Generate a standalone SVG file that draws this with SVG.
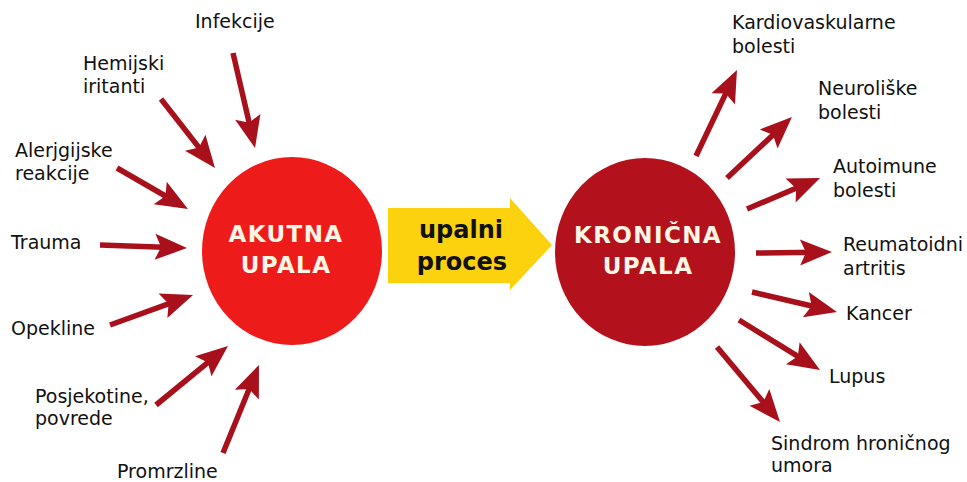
<svg xmlns="http://www.w3.org/2000/svg" width="967" height="482" viewBox="0 0 967 482">
  <style>
    .lbl { font-family: "DejaVu Sans", Verdana, sans-serif; font-size: 19px; fill: #111; }
    .core { font-family: "DejaVu Sans", Verdana, sans-serif; font-weight: bold; font-size: 23px; fill: #FFF6E6; text-anchor: middle; letter-spacing: 1.4px; }
    .proc { font-family: "DejaVu Sans", Verdana, sans-serif; font-weight: bold; font-size: 24px; fill: #111; text-anchor: middle; }
    .arrow { stroke: #A8101C; stroke-width: 5.5; fill: none; marker-end: url(#head); }
  </style>
  <defs>
    <marker id="head" markerUnits="userSpaceOnUse" markerWidth="34" markerHeight="28" refX="16" refY="13" orient="auto" overflow="visible">
      <path d="M0,0 L32,13 L0,26 L6,13 z" fill="#A8101C"/>
    </marker>
  </defs>
  <rect width="967" height="482" fill="#FFFFFF"/>

  <!-- acute inflammation -->
  <g id="akutna">
    <ellipse cx="292" cy="251" rx="90" ry="94" fill="#EE1B1B"/>
    <text class="core" x="286" y="242">AKUTNA</text>
    <text class="core" x="286" y="273">UPALA</text>
  </g>

  <!-- process arrow -->
  <g id="proces">
    <polygon points="388,208 510,208 510,198 552,245 510,290 510,283 388,283" fill="#FCD20F"/>
    <text class="proc" x="461" y="238">upalni</text>
    <text class="proc" x="462" y="270">proces</text>
  </g>

  <!-- chronic inflammation -->
  <g id="kronicna">
    <ellipse cx="645" cy="252" rx="90" ry="94" fill="#B3121C"/>
    <text class="core" x="648" y="243">KRONIČNA</text>
    <text class="core" x="648" y="274">UPALA</text>
  </g>

  <!-- causes -->
  <g id="infekcije"><text class="lbl" x="195" y="28">Infekcije</text></g>
  <g id="hemijski"><text class="lbl" x="83" y="70">Hemijski</text><text class="lbl" x="83" y="93">iritanti</text></g>
  <g id="alergijske"><text class="lbl" x="15" y="157">Alerjgijske</text><text class="lbl" x="15" y="180">reakcije</text></g>
  <g id="trauma"><text class="lbl" x="11" y="249">Trauma</text></g>
  <g id="opekline"><text class="lbl" x="11" y="335">Opekline</text></g>
  <g id="posjekotine"><text class="lbl" x="35" y="403">Posjekotine,</text><text class="lbl" x="35" y="425">povrede</text></g>
  <g id="promrzline"><text class="lbl" x="117" y="478">Promrzline</text></g>

  <!-- consequences -->
  <g id="kardio"><text class="lbl" x="732" y="29">Kardiovaskularne</text><text class="lbl" x="732" y="53">bolesti</text></g>
  <g id="neuro"><text class="lbl" x="818" y="95">Neuroliške</text><text class="lbl" x="818" y="119">bolesti</text></g>
  <g id="autoimune"><text class="lbl" x="833" y="173">Autoimune</text><text class="lbl" x="833" y="197">bolesti</text></g>
  <g id="reuma"><text class="lbl" x="843" y="251">Reumatoidni</text><text class="lbl" x="843" y="275">artritis</text></g>
  <g id="kancer"><text class="lbl" x="846" y="320">Kancer</text></g>
  <g id="lupus"><text class="lbl" x="829" y="383">Lupus</text></g>
  <g id="sindrom"><text class="lbl" x="771" y="450">Sindrom hroničnog</text><text class="lbl" x="771" y="472">umora</text></g>

  <!-- connectors -->
  <g id="connectors">
    <line class="arrow" x1="233" y1="53" x2="251.4" y2="132.4"/>
    <line class="arrow" x1="161" y1="99" x2="205.1" y2="155.4"/>
    <line class="arrow" x1="117" y1="168" x2="174.1" y2="201"/>
    <line class="arrow" x1="100" y1="245" x2="171" y2="247.4"/>
    <line class="arrow" x1="110" y1="325" x2="178" y2="300.4"/>
    <line class="arrow" x1="156" y1="405" x2="215.6" y2="356.1"/>
    <line class="arrow" x1="223" y1="453" x2="252.9" y2="379.8"/>
    <line class="arrow" x1="696" y1="156" x2="730.1" y2="84.4"/>
    <line class="arrow" x1="727" y1="178" x2="780.3" y2="128"/>
    <line class="arrow" x1="747" y1="209" x2="805.3" y2="184.3"/>
    <line class="arrow" x1="756" y1="253" x2="816" y2="252.2"/>
    <line class="arrow" x1="752" y1="292" x2="821.4" y2="308.3"/>
    <line class="arrow" x1="739" y1="320" x2="806.4" y2="361.6"/>
    <line class="arrow" x1="717" y1="347" x2="769.7" y2="409.7"/>
  </g>
</svg>
